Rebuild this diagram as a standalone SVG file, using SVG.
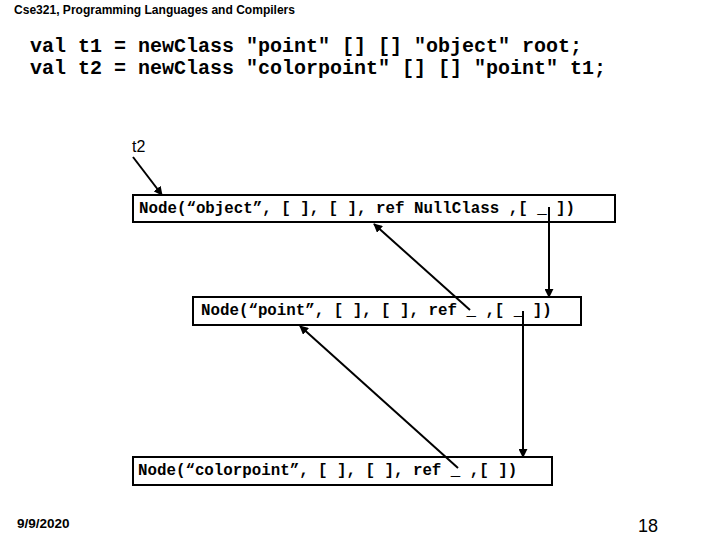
<svg xmlns="http://www.w3.org/2000/svg" width="720" height="540" viewBox="0 0 720 540">
<defs>
<style>
.hdr{font-family:"Liberation Sans",Arial,sans-serif;font-weight:bold;font-size:12px;fill:#000}
.code{font-family:"Liberation Mono","Courier New",monospace;font-weight:bold;font-size:20px;fill:#000;white-space:pre}
.node{font-family:"Liberation Mono","Courier New",monospace;font-weight:bold;font-size:15.8px;fill:#000;white-space:pre}
.box{fill:#fff;stroke:#000;stroke-width:2}
.conn{stroke:#000;stroke-width:2;fill:none;marker-end:url(#ah)}
.lbl{font-family:"Liberation Sans",Arial,sans-serif;font-size:16px;fill:#000}
</style>
<marker id="ah" viewBox="0 0 10 10" refX="9" refY="5" markerWidth="4.5" markerHeight="4.5" orient="auto" markerUnits="strokeWidth">
<path d="M0,0 L10,5 L0,10 z" fill="#000"/>
</marker>
</defs>
<rect width="720" height="540" fill="#fff"/>
<text class="hdr" x="14" y="14" textLength="281" lengthAdjust="spacingAndGlyphs">Cse321, Programming Languages and Compilers</text>
<text class="code" x="30" y="52" xml:space="preserve">val t1 = newClass "point" [] [] "object" root;</text>
<text class="code" x="30" y="74" xml:space="preserve">val t2 = newClass "colorpoint" [] [] "point" t1;</text>
<g id="node-object">
<rect class="box" x="133" y="195" width="482" height="27"/>
<text class="node" x="139" y="213" xml:space="preserve">Node(“object”, [ ], [ ], ref NullClass ,[ _ ])</text>
</g>
<g id="node-point">
<rect class="box" x="193" y="297" width="388" height="28"/>
<text class="node" x="201" y="315" xml:space="preserve">Node(“point”, [ ], [ ], ref _ ,[ _ ])</text>
</g>
<g id="node-colorpoint">
<rect class="box" x="133" y="457" width="419" height="28"/>
<text class="node" x="138" y="475" xml:space="preserve">Node(“colorpoint”, [ ], [ ], ref _ ,[ ])</text>
</g>
<g id="label-t2">
<text class="lbl" x="132" y="152">t2</text>
</g>
<g id="connectors">
<line class="conn" x1="133" y1="157" x2="162" y2="195"/>
<line class="conn" x1="470" y1="310" x2="374" y2="224"/>
<line class="conn" x1="549" y1="207" x2="549" y2="297"/>
<line class="conn" x1="523" y1="311" x2="523" y2="457"/>
<line class="conn" x1="458" y1="468" x2="300" y2="326"/>
</g>
<text class="hdr" x="17" y="528" style="font-size:13.5px">9/9/2020</text>
<text x="638" y="532" style="font-family:'Liberation Sans',Arial,sans-serif;font-size:18px;fill:#000">18</text>
</svg>
